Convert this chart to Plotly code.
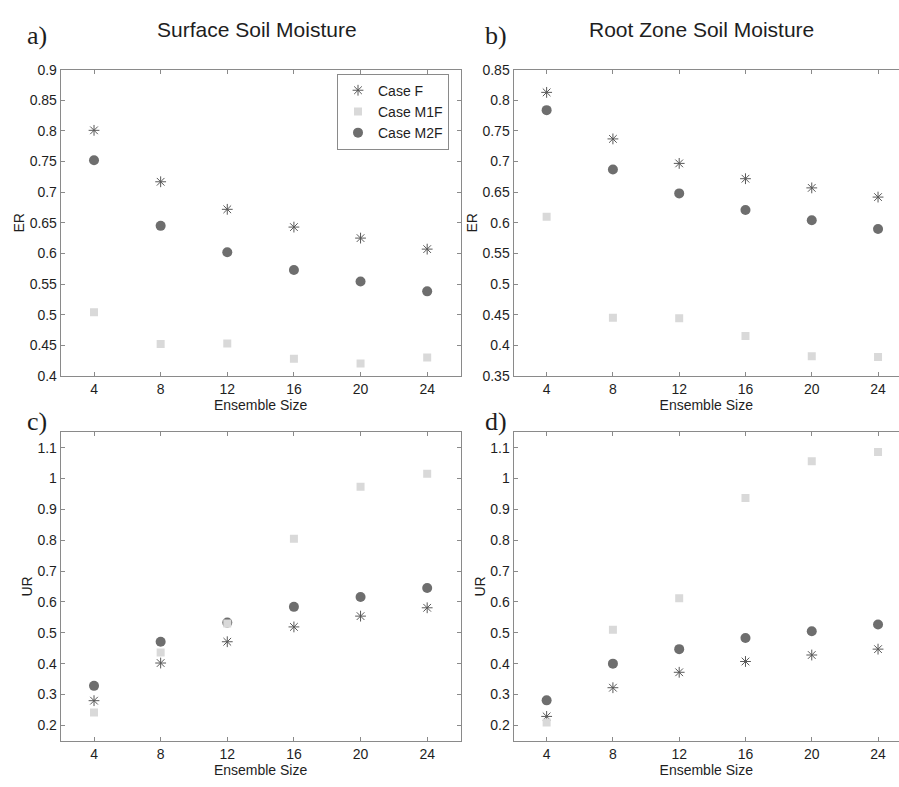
import plotly.graph_objects as go

# ---------------- data ----------------
ensemble = [4, 8, 12, 16, 20, 24]

er_surf_F = [0.801, 0.717, 0.672, 0.643, 0.625, 0.607]
er_surf_M1F = [0.504, 0.452, 0.453, 0.428, 0.420, 0.430]
er_surf_M2F = [0.752, 0.645, 0.602, 0.573, 0.554, 0.538]

er_root_F = [0.813, 0.737, 0.697, 0.672, 0.657, 0.642]
er_root_M1F = [0.610, 0.445, 0.444, 0.415, 0.382, 0.381]
er_root_M2F = [0.784, 0.687, 0.648, 0.621, 0.604, 0.590]

ur_surf_F = [0.280, 0.402, 0.471, 0.519, 0.554, 0.581]
ur_surf_M1F = [0.242, 0.436, 0.530, 0.805, 0.973, 1.015]
ur_surf_M2F = [0.328, 0.471, 0.533, 0.584, 0.616, 0.645]

ur_root_F = [0.229, 0.322, 0.372, 0.407, 0.428, 0.447]
ur_root_M1F = [0.209, 0.510, 0.612, 0.937, 1.056, 1.086]
ur_root_M2F = [0.281, 0.400, 0.447, 0.483, 0.505, 0.527]

x_ticks = [4, 8, 12, 16, 20, 24]
er_surf_ticks = [0.4, 0.45, 0.5, 0.55, 0.6, 0.65, 0.7, 0.75, 0.8, 0.85, 0.9]
er_surf_ticktext = ["0.4", "0.45", "0.5", "0.55", "0.6", "0.65", "0.7", "0.75", "0.8", "0.85", "0.9"]
er_root_ticks = [0.35, 0.4, 0.45, 0.5, 0.55, 0.6, 0.65, 0.7, 0.75, 0.8, 0.85]
er_root_ticktext = ["0.35", "0.4", "0.45", "0.5", "0.55", "0.6", "0.65", "0.7", "0.75", "0.8", "0.85"]
ur_ticks = [0.2, 0.3, 0.4, 0.5, 0.6, 0.7, 0.8, 0.9, 1.0, 1.1]
ur_ticktext = ["0.2", "0.3", "0.4", "0.5", "0.6", "0.7", "0.8", "0.9", "1", "1.1"]

series_names = ["Case F", "Case M1F", "Case M2F"]
panel_titles = ["Surface Soil Moisture", "Root Zone Soil Moisture"]
panel_letters = ["a)", "b)", "c)", "d)"]

# ---------------- styling ----------------
W, H = 899, 787
FONT = "Liberation Sans, Arial, sans-serif"
AX = "#8a8a8a"
TXT = "#1e1e1e"

styles = {
    "Case F": dict(symbol="asterisk-open", size=9, color="#585858",
                   line=dict(color="#585858", width=1)),
    "Case M1F": dict(symbol="square", size=8, color="#d9d9d9",
                     line=dict(width=0)),
    "Case M2F": dict(symbol="circle", size=10, color="#6e6e6e",
                     line=dict(width=0)),
}
rank = {"Case F": 1, "Case M1F": 2, "Case M2F": 3}

def px_x(p):
    return p / W

def px_y(p):
    return 1 - p / H

fig = go.Figure()

panels = [
    ("x", "y", [er_surf_F, er_surf_M1F, er_surf_M2F], True),
    ("x2", "y2", [er_root_F, er_root_M1F, er_root_M2F], False),
    ("x3", "y3", [ur_surf_F, ur_surf_M1F, ur_surf_M2F], False),
    ("x4", "y4", [ur_root_F, ur_root_M1F, ur_root_M2F], False),
]

for xa, ya, vals, show in panels:
    data = dict(zip(series_names, vals))
    # draw order: F, M2F, M1F (square drawn on top of circle)
    for name in ["Case F", "Case M2F", "Case M1F"]:
        st = styles[name]
        fig.add_trace(go.Scatter(
            x=ensemble, y=data[name], mode="markers", name=name,
            xaxis=xa, yaxis=ya, showlegend=show, legendrank=rank[name],
            marker=dict(symbol=st["symbol"], size=st["size"], color=st["color"],
                        line=st["line"]),
        ))

left_dom = [px_x(60.7), px_x(460.5)]
right_dom = [px_x(513.5), 1.0]
top_dom = [px_y(375.5), px_y(63)]
bot_dom = [px_y(748), px_y(433)]

def xaxis(domain, rng, anchor):
    return dict(domain=domain, range=rng, anchor=anchor,
                tickvals=x_ticks, ticktext=[str(t) for t in x_ticks],
                ticks="inside", ticklen=4, tickcolor=AX, tickwidth=1,
                showline=True, linecolor=AX, linewidth=1, mirror="ticks",
                showgrid=False, zeroline=False,
                tickfont=dict(family=FONT, size=14, color=TXT),
                title=dict(text="Ensemble Size", standoff=3,
                           font=dict(family=FONT, size=14, color=TXT)))

def yaxis(domain, rng, anchor, tv, tt, title, mirror):
    return dict(domain=domain, range=rng, anchor=anchor,
                tickvals=tv, ticktext=tt,
                ticks="inside", ticklen=4, tickcolor=AX, tickwidth=1,
                showline=True, linecolor=AX, linewidth=1,
                mirror="ticks" if mirror else False,
                showgrid=False, zeroline=False,
                tickfont=dict(family=FONT, size=14, color=TXT),
                title=dict(text=title, standoff=1,
                           font=dict(family=FONT, size=14, color=TXT)))

right_range = [2, 2 + (899 - 513.5) / 16.57]

fig.update_layout(
    width=W, height=H,
    margin=dict(l=0, r=0, t=0, b=0),
    paper_bgcolor="white", plot_bgcolor="white",
    font=dict(family=FONT, color=TXT),
    xaxis=xaxis(left_dom, [2, 26], "y"),
    yaxis=yaxis(top_dom, [0.4, 0.9], "x", er_surf_ticks, er_surf_ticktext, "ER", True),
    xaxis2=xaxis(right_dom, right_range, "y2"),
    yaxis2=yaxis(top_dom, [0.35, 0.85], "x2", er_root_ticks, er_root_ticktext, "ER", False),
    xaxis3=xaxis(left_dom, [2, 26], "y3"),
    yaxis3=yaxis(bot_dom, [0.15, 1.15], "x3", ur_ticks, ur_ticktext, "UR", True),
    xaxis4=xaxis(right_dom, right_range, "y4"),
    yaxis4=yaxis(bot_dom, [0.15, 1.15], "x4", ur_ticks, ur_ticktext, "UR", False),
    showlegend=True,
    legend=dict(x=px_x(449), xanchor="right", y=px_y(67), yanchor="top",
                bgcolor="white", bordercolor="#8a8a8a", borderwidth=1,
                font=dict(family=FONT, size=14, color=TXT),
                tracegroupgap=0, itemwidth=30),
)

annotations = [
    dict(text=panel_titles[0], x=px_x(257), y=px_y(22)),
    dict(text=panel_titles[1], x=px_x(701), y=px_y(22)),
]
for a in annotations:
    a.update(xref="paper", yref="paper", showarrow=False, xanchor="center",
             yanchor="middle", font=dict(family=FONT, size=21, color=TXT))
letter_pos = [(37, 28), (496, 28), (37, 422), (496, 422)]
for lab, (lx, ly) in zip(panel_letters, letter_pos):
    annotations.append(dict(text=lab, x=px_x(lx), y=px_y(ly), xref="paper", yref="paper",
                            showarrow=False, xanchor="center", yanchor="middle",
                            font=dict(family="Liberation Serif, Times New Roman, serif",
                                      size=26, color=TXT)))
fig.update_layout(annotations=annotations)

fig.write_html("out.html")
